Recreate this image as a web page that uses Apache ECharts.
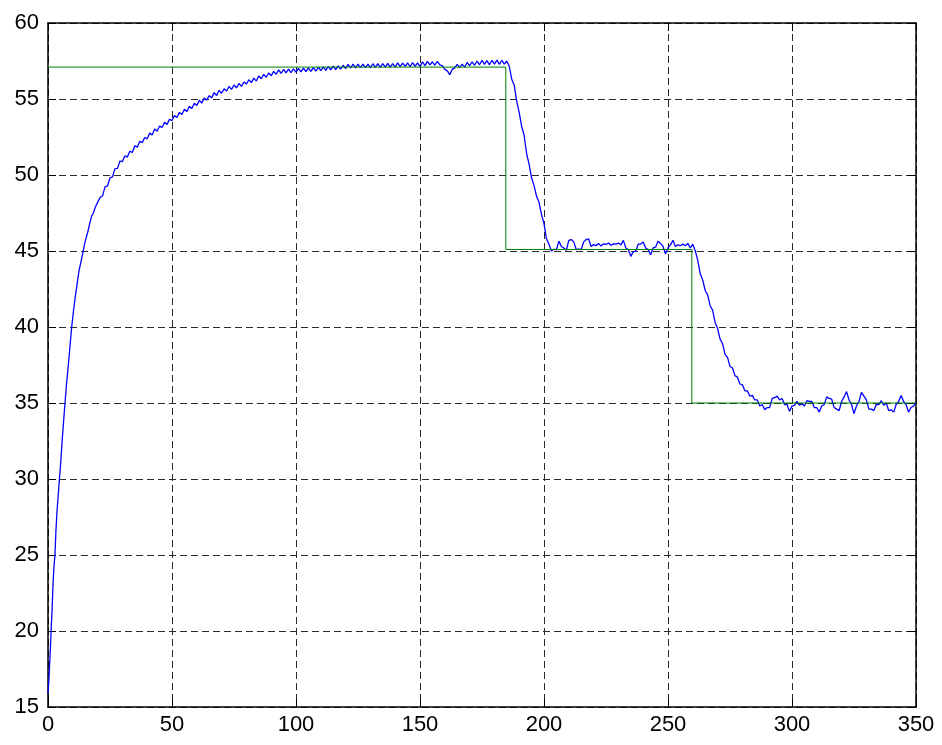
<!DOCTYPE html>
<html>
<head>
<meta charset="utf-8">
<script src="https://cdn.jsdelivr.net/npm/echarts@6/dist/echarts.min.js"></script>
<style>
  html, body { margin: 0; padding: 0; background: #fff; }
  #chart { width: 942px; height: 745px; }
</style>
</head>
<body>
<div id="chart"></div>
<script>
// Axis ranges and ticks
const xMin = 0, xMax = 350, xStep = 50;
const yMin = 15, yMax = 60, yStep = 5;

// Setpoint: switch times and the level held after each one
const setTimes = [0, 184.6, 259.6, 350];
const setLevels = [57.1, 45.1, 35.0];

// Measured response, start-up (finely sampled)
const riseTime = [0, 0.3, 0.6, 1, 1.3, 1.7, 2, 2.4, 2.8, 3.2, 3.6, 4.1, 4.6, 5.1, 5.7, 6.2, 6.85, 7.5, 8.2, 8.9,
  9.55, 10.3, 11, 11.8, 12.5, 13.3, 14.2, 14.8, 15.3, 16.1, 16.9, 17.6, 18.3, 19.1, 20];
const riseValue = [15.9, 16.6, 17.6, 19.0, 20.2, 21.6, 23.0, 24.2, 25.0, 26.6, 27.8, 28.9, 30.0, 31.0, 32.5, 33.6, 35.0, 36.3, 37.5, 38.8,
  40.0, 41.1, 42.0, 42.9, 43.7, 44.3, 45.0, 45.5, 45.6, 46.3, 46.85, 47.3, 47.5, 47.9, 48.2];

// Measured response, one sample per second from t = 21 to t = 350
const responseStart = 21;
const response = [
  48.52, 48.63, 49.22, 49.28, 49.82, 49.88, 50.42, 50.43, 50.92, 50.88,
  51.27, 51.18, 51.57, 51.48, 51.92, 51.83, 52.22, 52.13, 52.47, 52.38,
  52.77, 52.63, 53.02, 52.88, 53.22, 53.13, 53.47, 53.33, 53.67, 53.58,
  53.92, 53.78, 54.12, 53.98, 54.32, 54.18, 54.52, 54.38, 54.72, 54.58,
  54.92, 54.73, 55.07, 54.93, 55.22, 55.08, 55.42, 55.23, 55.57, 55.38,
  55.67, 55.53, 55.82, 55.63, 55.92, 55.73, 56.02, 55.83, 56.12, 55.98,
  56.27, 56.08, 56.37, 56.18, 56.52, 56.33, 56.62, 56.43, 56.72, 56.53,
  56.82, 56.63, 56.92, 56.68, 56.94, 56.72, 56.97, 56.74, 56.99, 56.76,
  57.01, 56.78, 57.03, 56.80, 57.05, 56.82, 57.07, 56.84, 57.09, 56.86,
  57.11, 56.88, 57.13, 56.91, 57.16, 56.93, 57.18, 56.96, 57.22, 57.0,
  57.28, 57.04, 57.3, 57.05, 57.3, 57.06, 57.3, 57.06, 57.3, 57.06,
  57.32, 57.08, 57.33, 57.08, 57.32, 57.1, 57.34, 57.1, 57.33, 57.12,
  57.37, 57.13, 57.36, 57.14, 57.38, 57.12, 57.4, 57.15, 57.37, 57.13,
  57.45, 57.2, 57.48, 57.25, 57.45, 57.22, 57.48, 57.25, 57.2, 56.95,
  56.85, 56.6, 56.95, 57.05, 57.28, 57.08, 57.3, 57.1, 57.4, 57.2,
  57.45, 57.22, 57.5, 57.25, 57.55, 57.28, 57.52, 57.25, 57.55, 57.3,
  57.56, 57.28, 57.55, 57.3, 57.5, 57.15, 56.3, 55.9, 54.85, 54.1,
  53.2, 52.6, 51.4, 50.7, 49.8, 49.3, 48.6, 48.2, 47.4, 46.8,
  45.8, 45.45, 45.0, 45.12, 45.08, 45.65, 45.3, 45.2, 45.05, 45.7,
  45.75, 45.6, 45.1, 45.12, 45.1, 45.6, 45.75, 45.8, 45.3, 45.42,
  45.35, 45.5, 45.33, 45.47, 45.43, 45.52, 45.38, 45.47, 45.45, 45.52,
  45.4, 45.7, 45.2, 45.1, 44.65, 44.95, 45.0, 45.45, 45.45, 45.6,
  45.2, 45.1, 44.75, 45.2, 45.25, 45.65, 45.5, 45.3, 44.8, 45.2,
  45.4, 45.7, 45.3, 45.4, 45.35, 45.45, 45.35, 45.5, 45.2, 45.45,
  45.0, 44.4, 43.5, 43.1, 42.4, 42.1, 41.4, 41.1, 40.3, 39.9,
  39.2, 38.9, 38.2, 38.0, 37.4, 37.3, 36.8, 36.7, 36.25, 36.2,
  35.8, 35.8, 35.45, 35.5, 35.2, 35.2, 34.8, 34.9, 34.55, 34.7,
  34.7, 35.3, 35.35, 35.45, 35.2, 35.3, 34.9, 34.9, 34.45, 34.8,
  34.85, 35.1, 34.85, 34.95, 34.8, 35.15, 35.1, 35.1, 34.7, 34.7,
  34.4, 34.8, 34.9, 35.4, 35.3, 35.25, 34.7, 34.6, 34.5, 35.1,
  35.4, 35.75, 35.2, 34.9, 34.3, 34.8, 35.1, 35.7, 35.45, 35.2,
  34.6, 34.6, 34.5, 34.9, 34.9, 35.15, 34.85, 35.0, 34.5, 34.55,
  34.4, 34.9, 35.1, 35.5, 35.1, 34.9, 34.4, 34.7, 34.8, 35.05
];

// Build [t, y] pairs for the library
const responseData = riseTime.map((t, i) => [t, riseValue[i]])
  .concat(response.map((v, i) => [responseStart + i, v]));

const setpointData = setTimes.map((t, i) => [t, setLevels[Math.min(i, setLevels.length - 1)]]);

const FONT = '"Liberation Sans", Arial, Helvetica, sans-serif';
const frameLine = { show: true, onZero: false, lineStyle: { color: '#000', width: 1.5 } };
const innerTick = { show: true, inside: true, length: 8, lineStyle: { color: '#000', width: 1 } };
const gridDash = { show: true, lineStyle: { color: '#2a2a2a', width: 1, type: [7, 4] } };

const chart = echarts.init(document.getElementById('chart'), null, { renderer: 'canvas' });
chart.setOption({
  animation: false,
  backgroundColor: '#ffffff',
  grid: { left: 48, right: 26, top: 23, bottom: 38, containLabel: false },
  xAxis: [
    {
      type: 'value', min: xMin, max: xMax, interval: xStep, position: 'bottom',
      axisLine: frameLine, axisTick: innerTick,
      axisLabel: { color: '#000', fontSize: 22, fontFamily: FONT, margin: 7 },
      splitLine: gridDash
    },
    {
      type: 'value', min: xMin, max: xMax, interval: xStep, position: 'top',
      axisLine: frameLine, axisTick: innerTick,
      axisLabel: { show: false }, splitLine: { show: false }
    }
  ],
  yAxis: [
    {
      type: 'value', min: yMin, max: yMax, interval: yStep, position: 'left',
      axisLine: frameLine, axisTick: innerTick,
      axisLabel: { color: '#000', fontSize: 22, fontFamily: FONT, margin: 9 },
      splitLine: gridDash
    },
    {
      type: 'value', min: yMin, max: yMax, interval: yStep, position: 'right',
      axisLine: frameLine, axisTick: innerTick,
      axisLabel: { show: false }, splitLine: { show: false }
    }
  ],
  series: [
    {
      name: 'response', type: 'line', xAxisIndex: 0, yAxisIndex: 0,
      data: responseData, showSymbol: false, symbol: 'none',
      lineStyle: { color: '#0000ff', width: 1.3 }, z: 3
    },
    {
      name: 'setpoint', type: 'line', xAxisIndex: 0, yAxisIndex: 0,
      data: setpointData, step: 'end', showSymbol: false, symbol: 'none',
      lineStyle: { color: '#008000', width: 1 }, z: 4
    }
  ]
});
</script>
</body>
</html>
